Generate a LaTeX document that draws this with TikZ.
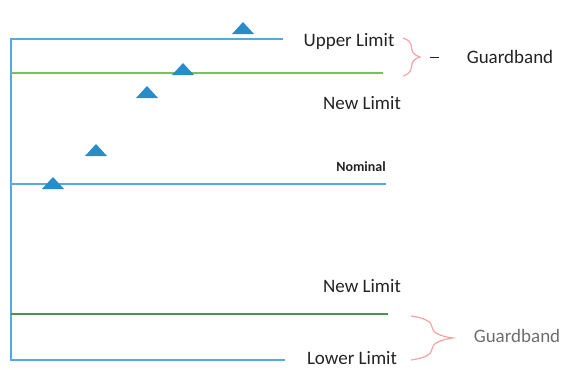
\documentclass[tikz,border=0pt]{standalone}
\usepackage{fontspec}
\setmainfont{Carlito}
\usepackage{tikz}
\usetikzlibrary{decorations.pathreplacing}
\definecolor{limitblue}{RGB}{86,168,222}
\definecolor{newgreen}{RGB}{125,192,85}
\definecolor{darkgreen}{RGB}{72,150,78}
\definecolor{markblue}{RGB}{40,140,200}
\definecolor{bracepink}{RGB}{242,165,165}
\definecolor{textgray}{RGB}{35,35,35}
\definecolor{softgray}{RGB}{110,110,110}

\tikzset{
    level/.style={line width=2pt},
    limitlabel/.style={font=\fontsize{19}{22}\selectfont, text=textgray, inner sep=0pt},
    guard/.style={decorate, decoration={brace, amplitude=#1}, draw=bracepink, line width=1.2pt}
}

\begin{document}
\begin{tikzpicture}[x=1pt,y=-1pt]
    \useasboundingbox (0,0) rectangle (566,370);
    \draw[limitblue, level] (11,38) -- (11,361);
    \draw[limitblue, level] (11,39) -- (283,39);
    \draw[newgreen, level] (11,73) -- (383,73);
    \draw[limitblue, level] (11,184) -- (386,184);
    \draw[darkgreen, level] (11,314) -- (388,314);
    \draw[limitblue, level] (11,360) -- (285,360);
    \foreach \x/\y in {243/28, 183/69, 147/92, 96/150, 53/183}
        \fill[markblue] (\x-11,\y+6) -- (\x,\y-6) -- (\x+11,\y+6) -- cycle;

    \node[limitlabel] (upper) at (349,41) {Upper Limit};
    \node[limitlabel] (newup) at (362,103) {New Limit};
    \node[limitlabel, font=\fontsize{14}{16}\selectfont\bfseries] (nominal) at (361,167) {Nominal};
    \node[limitlabel] (newlow) at (362,286) {New Limit};
    \node[limitlabel] (lower) at (352,358) {Lower Limit};
    \node[limitlabel] (guardup) at (510,57) {Guardband};
    \node[limitlabel, text=softgray] (guardlow) at (517,336) {Guardband};

    \draw[guard=17] (403,38) -- (403,76);
    \coordinate (uptip) at (430,57);
    \coordinate (upend) at (439,57);
    \draw[textgray, line width=1pt] (uptip) -- (upend);
    \draw[guard=42] (411,316) -- (411,360);
\end{tikzpicture}
\end{document}
